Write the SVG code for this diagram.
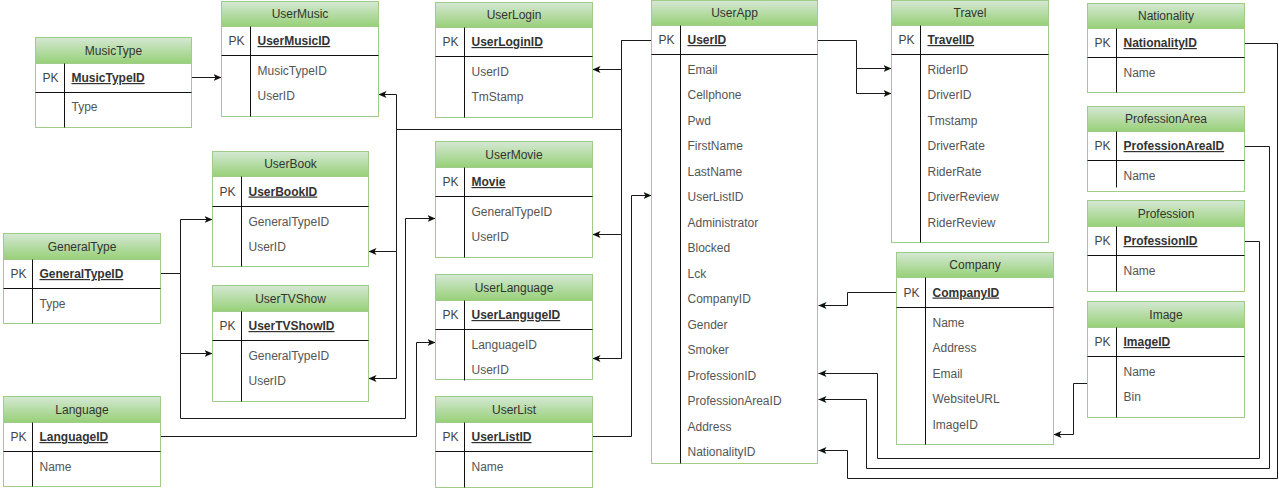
<svg xmlns="http://www.w3.org/2000/svg" width="1279" height="488" viewBox="0 0 1279 488">
<defs>
  <linearGradient id="hdrFill" x1="0" y1="0" x2="0" y2="1">
    <stop offset="0" stop-color="#d5e8d4"/>
    <stop offset="1" stop-color="#97d077"/>
  </linearGradient>
  <marker id="arrow" markerUnits="userSpaceOnUse" viewBox="0 0 8 7" markerWidth="8" markerHeight="7" refX="8" refY="3.5" orient="auto">
    <path d="M0,0 L8,3.5 L0,7 L2,3.5 Z" fill="#111"/>
  </marker>
  <style>
    .box { fill: #ffffff; stroke: #9fcd87; stroke-width: 1; }
    .hdr { fill: url(#hdrFill); stroke: #9fcd87; stroke-width: 1; }
    .rule { stroke: #111; stroke-width: 1; fill: none; }
    text { font-family: "Liberation Sans", Arial, Helvetica, sans-serif; font-size: 12px; }
    .title { fill: #333; text-anchor: middle; }
    .pk { fill: #444; text-anchor: middle; }
    .key { fill: #333; font-weight: bold; text-decoration: underline; }
    .fld { fill: #555; }
    .edge { stroke: #1a1a1a; stroke-width: 1; fill: none; }
    .edge.to { marker-end: url(#arrow); }
  </style>
</defs>
<rect x="0" y="0" width="1279" height="488" fill="#ffffff"/>
<g transform="translate(0.5 0.5)">

<!-- relationship lines -->
<g id="connectors">
  <path class="edge to" d="M191,77 H221"/>
  <path class="edge to" d="M651,40 H621 V69 H592"/>
  <path class="edge to" d="M651,40 H621 V129 H396 V94 H378"/>
  <path class="edge to" d="M621,129 H396 V251 H368"/>
  <path class="edge to" d="M396,251 V378 H368"/>
  <path class="edge to" d="M621,69 V234 H592"/>
  <path class="edge to" d="M621,234 V358 H592"/>
  <path class="edge to" d="M817,40 H856 V68 H891"/>
  <path class="edge to" d="M856,68 V93 H891"/>
  <path class="edge to" d="M160,273 H180 V219 H212"/>
  <path class="edge to" d="M180,273 V353 H212"/>
  <path class="edge to" d="M180,353 V418 H405 V218 H435"/>
  <path class="edge to" d="M160,436 H416 V342 H435"/>
  <path class="edge to" d="M592,436 H631 V195 H651"/>
  <path class="edge to" d="M896,292 H847 V305 H818"/>
  <path class="edge to" d="M1244,241 H1259 V458 H877 V373 H818"/>
  <path class="edge to" d="M1244,146 H1269 V468 H866 V399 H818"/>
  <path class="edge to" d="M1244,43 H1277 V478 H847 V450 H818"/>
  <path class="edge to" d="M1087,341 V383 H1073 V434 H1053"/>
</g>

<g id="MusicType">
  <rect class="box" x="35" y="37" width="156" height="90"/>
  <rect class="hdr" x="35" y="37" width="156" height="26"/>
  <path class="rule" d="M35,92 H191 M64,63 V127"/>
  <text class="title" x="113" y="54">MusicType</text>
  <text class="pk" x="50" y="81.5">PK</text>
  <text class="key" x="71" y="81.5">MusicTypeID</text>
  <text class="fld" x="71" y="110">Type</text>
</g>

<g id="UserMusic">
  <rect class="box" x="221" y="1" width="157" height="115"/>
  <rect class="hdr" x="221" y="1" width="157" height="25"/>
  <path class="rule" d="M221,55 H378 M250,26 V116"/>
  <text class="title" x="299.5" y="17.5">UserMusic</text>
  <text class="pk" x="236" y="44.5">PK</text>
  <text class="key" x="257" y="44.5">UserMusicID</text>
  <text class="fld" x="257" y="74">MusicTypeID</text>
  <text class="fld" x="257" y="99.5">UserID</text>
</g>

<g id="UserLogin">
  <rect class="box" x="435" y="2" width="157" height="115"/>
  <rect class="hdr" x="435" y="2" width="157" height="25"/>
  <path class="rule" d="M435,56 H592 M464,27 V117"/>
  <text class="title" x="513.5" y="18.5">UserLogin</text>
  <text class="pk" x="450" y="45.5">PK</text>
  <text class="key" x="471" y="45.5">UserLoginID</text>
  <text class="fld" x="471" y="75">UserID</text>
  <text class="fld" x="471" y="100.5">TmStamp</text>
</g>

<g id="UserApp">
  <rect class="box" x="651" y="0" width="166" height="463"/>
  <rect class="hdr" x="651" y="0" width="166" height="25"/>
  <path class="rule" d="M651,54 H817 M680,25 V463"/>
  <text class="title" x="734" y="16.5">UserApp</text>
  <text class="pk" x="666" y="43.5">PK</text>
  <text class="key" x="687" y="43.5">UserID</text>
  <text class="fld" x="687" y="73">Email</text>
  <text class="fld" x="687" y="98.5">Cellphone</text>
  <text class="fld" x="687" y="124">Pwd</text>
  <text class="fld" x="687" y="149.5">FirstName</text>
  <text class="fld" x="687" y="175">LastName</text>
  <text class="fld" x="687" y="200.5">UserListID</text>
  <text class="fld" x="687" y="226">Administrator</text>
  <text class="fld" x="687" y="251.5">Blocked</text>
  <text class="fld" x="687" y="277">Lck</text>
  <text class="fld" x="687" y="302.5">CompanyID</text>
  <text class="fld" x="687" y="328">Gender</text>
  <text class="fld" x="687" y="353.5">Smoker</text>
  <text class="fld" x="687" y="379">ProfessionID</text>
  <text class="fld" x="687" y="404.5">ProfessionAreaID</text>
  <text class="fld" x="687" y="430">Address</text>
  <text class="fld" x="687" y="455.5">NationalityID</text>
</g>

<g id="Travel">
  <rect class="box" x="891" y="0" width="157" height="242"/>
  <rect class="hdr" x="891" y="0" width="157" height="25"/>
  <path class="rule" d="M891,54 H1048 M920,25 V242"/>
  <text class="title" x="969.5" y="16.5">Travel</text>
  <text class="pk" x="906" y="43.5">PK</text>
  <text class="key" x="927" y="43.5">TravelID</text>
  <text class="fld" x="927" y="73">RiderID</text>
  <text class="fld" x="927" y="98.5">DriverID</text>
  <text class="fld" x="927" y="124">Tmstamp</text>
  <text class="fld" x="927" y="149.5">DriverRate</text>
  <text class="fld" x="927" y="175">RiderRate</text>
  <text class="fld" x="927" y="200.5">DriverReview</text>
  <text class="fld" x="927" y="226">RiderReview</text>
</g>

<g id="Nationality">
  <rect class="box" x="1087" y="3" width="157" height="89"/>
  <rect class="hdr" x="1087" y="3" width="157" height="25"/>
  <path class="rule" d="M1087,57 H1244 M1116,28 V92"/>
  <text class="title" x="1165.5" y="19.5">Nationality</text>
  <text class="pk" x="1102" y="46.5">PK</text>
  <text class="key" x="1123" y="46.5">NationalityID</text>
  <text class="fld" x="1123" y="76">Name</text>
</g>

<g id="ProfessionArea">
  <rect class="box" x="1087" y="106" width="157" height="85"/>
  <rect class="hdr" x="1087" y="106" width="157" height="25"/>
  <path class="rule" d="M1087,160 H1244 M1116,131 V187"/>
  <text class="title" x="1165.5" y="122.5">ProfessionArea</text>
  <text class="pk" x="1102" y="149.5">PK</text>
  <text class="key" x="1123" y="149.5">ProfessionAreaID</text>
  <text class="fld" x="1123" y="179">Name</text>
</g>

<g id="Profession">
  <rect class="box" x="1087" y="200" width="157" height="91"/>
  <rect class="hdr" x="1087" y="200" width="157" height="26"/>
  <path class="rule" d="M1087,255 H1244 M1116,226 V291"/>
  <text class="title" x="1165.5" y="217">Profession</text>
  <text class="pk" x="1102" y="244.5">PK</text>
  <text class="key" x="1123" y="244.5">ProfessionID</text>
  <text class="fld" x="1123" y="274">Name</text>
</g>

<g id="Image">
  <rect class="box" x="1087" y="301" width="157" height="116"/>
  <rect class="hdr" x="1087" y="301" width="157" height="26"/>
  <path class="rule" d="M1087,356 H1244 M1116,327 V417"/>
  <text class="title" x="1165.5" y="318">Image</text>
  <text class="pk" x="1102" y="345.5">PK</text>
  <text class="key" x="1123" y="345.5">ImageID</text>
  <text class="fld" x="1123" y="375">Name</text>
  <text class="fld" x="1123" y="400.5">Bin</text>
</g>

<g id="Company">
  <rect class="box" x="896" y="252" width="157" height="192"/>
  <rect class="hdr" x="896" y="252" width="157" height="25"/>
  <path class="rule" d="M896,307 H1053 M925,277 V444"/>
  <text class="title" x="974.5" y="268.5">Company</text>
  <text class="pk" x="911" y="296">PK</text>
  <text class="key" x="932" y="296">CompanyID</text>
  <text class="fld" x="932" y="326">Name</text>
  <text class="fld" x="932" y="351.5">Address</text>
  <text class="fld" x="932" y="377">Email</text>
  <text class="fld" x="932" y="402.5">WebsiteURL</text>
  <text class="fld" x="932" y="428">ImageID</text>
</g>

<g id="GeneralType">
  <rect class="box" x="3" y="233" width="157" height="90"/>
  <rect class="hdr" x="3" y="233" width="157" height="26"/>
  <path class="rule" d="M3,288 H160 M32,259 V323"/>
  <text class="title" x="81.5" y="250">GeneralType</text>
  <text class="pk" x="18" y="277.5">PK</text>
  <text class="key" x="39" y="277.5">GeneralTypeID</text>
  <text class="fld" x="39" y="307">Type</text>
</g>

<g id="UserBook">
  <rect class="box" x="212" y="151" width="156" height="115"/>
  <rect class="hdr" x="212" y="151" width="156" height="25"/>
  <path class="rule" d="M212,206 H368 M241,176 V266"/>
  <text class="title" x="290" y="167.5">UserBook</text>
  <text class="pk" x="227" y="195">PK</text>
  <text class="key" x="248" y="195">UserBookID</text>
  <text class="fld" x="248" y="225">GeneralTypeID</text>
  <text class="fld" x="248" y="250.5">UserID</text>
</g>

<g id="UserTVShow">
  <rect class="box" x="212" y="285" width="156" height="116"/>
  <rect class="hdr" x="212" y="285" width="156" height="26"/>
  <path class="rule" d="M212,340 H368 M241,311 V401"/>
  <text class="title" x="290" y="302">UserTVShow</text>
  <text class="pk" x="227" y="329.5">PK</text>
  <text class="key" x="248" y="329.5">UserTVShowID</text>
  <text class="fld" x="248" y="359">GeneralTypeID</text>
  <text class="fld" x="248" y="384.5">UserID</text>
</g>

<g id="UserMovie">
  <rect class="box" x="435" y="141" width="157" height="116"/>
  <rect class="hdr" x="435" y="141" width="157" height="26"/>
  <path class="rule" d="M435,196 H592 M464,167 V257"/>
  <text class="title" x="513.5" y="158">UserMovie</text>
  <text class="pk" x="450" y="185.5">PK</text>
  <text class="key" x="471" y="185.5">Movie</text>
  <text class="fld" x="471" y="215">GeneralTypeID</text>
  <text class="fld" x="471" y="240.5">UserID</text>
</g>

<g id="UserLanguage">
  <rect class="box" x="435" y="274" width="157" height="105"/>
  <rect class="hdr" x="435" y="274" width="157" height="26"/>
  <path class="rule" d="M435,329 H592 M464,300 V380"/>
  <text class="title" x="513.5" y="291">UserLanguage</text>
  <text class="pk" x="450" y="318.5">PK</text>
  <text class="key" x="471" y="318.5">UserLangugeID</text>
  <text class="fld" x="471" y="348">LanguageID</text>
  <text class="fld" x="471" y="373.5">UserID</text>
</g>

<g id="UserList">
  <rect class="box" x="435" y="396" width="157" height="91"/>
  <rect class="hdr" x="435" y="396" width="157" height="26"/>
  <path class="rule" d="M435,451 H592 M464,422 V487"/>
  <text class="title" x="513.5" y="413">UserList</text>
  <text class="pk" x="450" y="440.5">PK</text>
  <text class="key" x="471" y="440.5">UserListID</text>
  <text class="fld" x="471" y="470">Name</text>
</g>

<g id="Language">
  <rect class="box" x="3" y="396" width="157" height="90"/>
  <rect class="hdr" x="3" y="396" width="157" height="26"/>
  <path class="rule" d="M3,451 H160 M32,422 V486"/>
  <text class="title" x="81.5" y="413">Language</text>
  <text class="pk" x="18" y="440.5">PK</text>
  <text class="key" x="39" y="440.5">LanguageID</text>
  <text class="fld" x="39" y="470">Name</text>
</g>

</g>
</svg>
